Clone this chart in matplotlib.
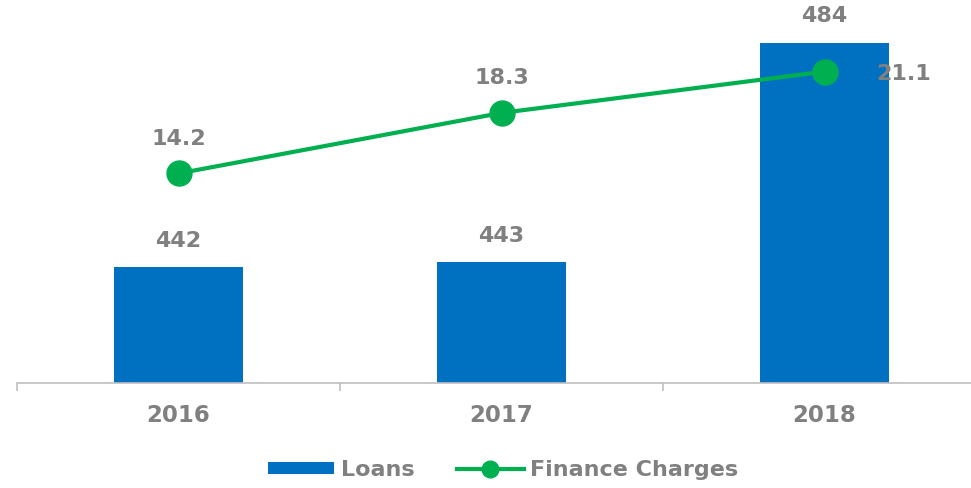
import matplotlib.pyplot as plt
import numpy as np
from matplotlib.lines import Line2D
from matplotlib.patches import Patch

years = ["2016", "2017", "2018"]
loans = [442, 443, 484]
finance_charges = [14.2, 18.3, 21.1]

blue = "#0070C0"
green = "#00B050"
grey = "#808080"

plt.rcParams['font.family'] = ['DejaVu Sans']

fig = plt.figure(figsize=(9.71, 4.88), dpi=100)
ax = fig.add_axes([17 / 971, 105 / 488, 1 - 17 / 971, 383 / 488])
x = np.arange(len(years))

ax.bar(x, loans, width=0.4, color=blue, zorder=2)
ax.set_ylim(420.4, 492)
ax.set_xlim(-0.5, 2.5 - 15 / 323)

for xi, v in zip(x, loans):
    ax.annotate(str(v), (xi, v), xytext=(0, 19), textcoords="offset points",
                ha="center", va="center", fontsize=16, fontweight="bold", color=grey)

ax2 = ax.twinx()
ax2.plot(x, finance_charges, color=green, lw=3, marker="o", markersize=18, zorder=3)
ax2.set_ylim(0, 25.95)

for i, (xi, v) in enumerate(zip(x, finance_charges)):
    if i == len(x) - 1:
        ax2.annotate(f"{v:.1f}", (xi, v), xytext=(57, -2), textcoords="offset points",
                     ha="center", va="center", fontsize=16, fontweight="bold", color=grey)
    else:
        ax2.annotate(f"{v:.1f}", (xi, v), xytext=(0, 25), textcoords="offset points",
                     ha="center", va="center", fontsize=16, fontweight="bold", color=grey)

for a in (ax, ax2):
    for s in ("top", "left", "right"):
        a.spines[s].set_visible(False)
    a.set_yticks([])
ax2.spines["bottom"].set_visible(False)

ax.spines["bottom"].set_color("#bfbfbf")
ax.spines["bottom"].set_linewidth(1.2)
ax.set_xticks(x)
ax.set_xticklabels(years, fontsize=16.5, fontweight="bold", color=grey)
ax.tick_params(axis="x", length=0, pad=15)
ax.set_xticks([-0.5, 0.5, 1.5], minor=True)
ax.tick_params(axis="x", which="minor", length=6, color="#bfbfbf", width=1.2)

handles = [Patch(facecolor=blue, edgecolor="none"),
           Line2D([0], [0], color=green, lw=3, marker="o", markersize=12)]
leg = fig.legend(handles, ["Loans", "Finance Charges"], loc="center",
                 bbox_to_anchor=(503 / 971, 1 - 470 / 488), ncol=2, frameon=False,
                 prop={"size": 16, "weight": "bold"}, handlelength=3.0,
                 handleheight=0.5, columnspacing=1.9, handletextpad=0.3)
for t in leg.get_texts():
    t.set_color(grey)

fig.savefig("out.png", dpi=100)
